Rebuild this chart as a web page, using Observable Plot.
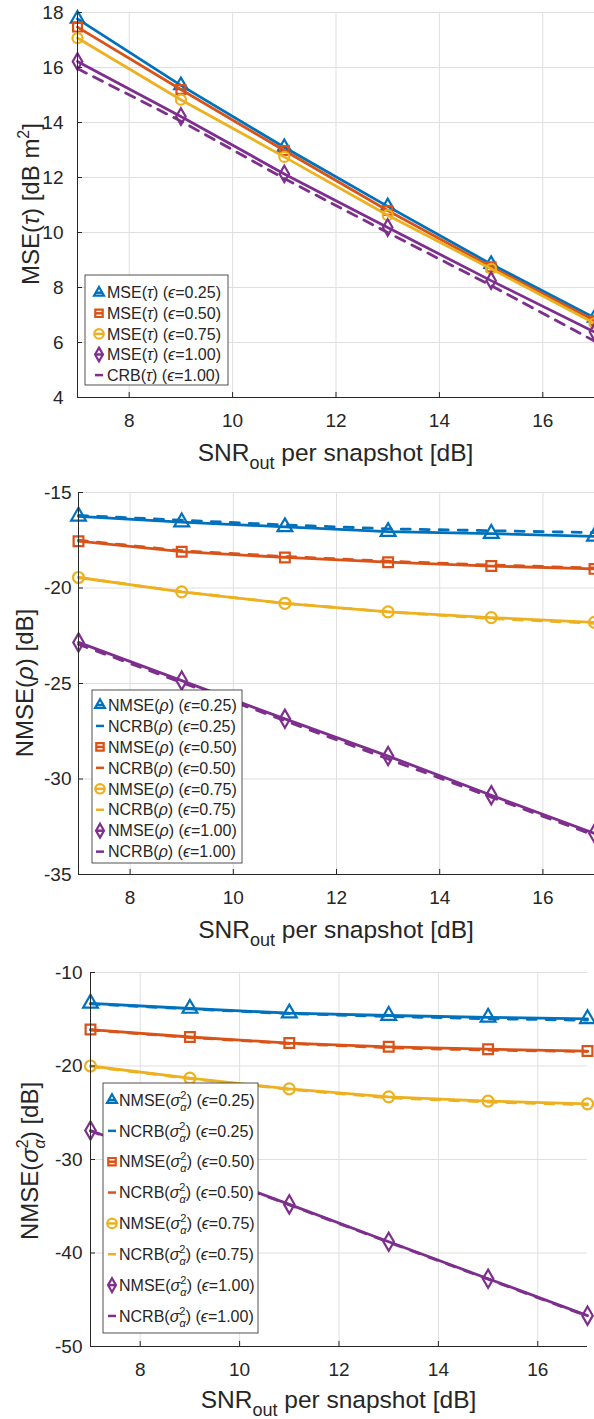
<!DOCTYPE html>
<html><head><meta charset="utf-8">
<script src="https://cdn.jsdelivr.net/npm/d3@7"></script>
<script src="https://cdn.jsdelivr.net/npm/@observablehq/plot@0.6"></script>
<style>
body{margin:0;background:#fff;}
#chart{width:594px;}
#chart svg{display:block;}
</style></head><body><div id="chart"></div>
<script>
// ---------- shared data ----------
const snr = [7, 9, 11, 13, 15, 17];
const xTicks = [8, 10, 12, 14, 16];
const epsLabels = ["0.25", "0.50", "0.75", "1.00"];
const colors = ["#0072BD", "#D95319", "#EDB120", "#7E2F8E"];
const symbols = ["triangle", "square", "circle", "diamond"];

// ---------- panel 1: MSE(tau) [dB m^2] ----------
const tauTicks = [4, 6, 8, 10, 12, 14, 16, 18];
const mseTau025 = [17.77, 15.35, 13.10, 10.95, 8.85, 6.90];
const mseTau050 = [17.47, 15.20, 12.98, 10.80, 8.75, 6.80];
const mseTau075 = [17.07, 14.83, 12.75, 10.63, 8.68, 6.70];
const mseTau100 = [16.22, 14.22, 12.13, 10.18, 8.25, 6.38];
const crbTau100 = [15.96, 14.05, 11.96, 10.00, 8.07, 6.05];

// ---------- panel 2: NMSE(rho) [dB] ----------
const rhoTicks = [-35, -30, -25, -20, -15];
const nmseRho025 = [-16.25, -16.55, -16.80, -17.05, -17.15, -17.30];
const ncrbRho025 = [-16.20, -16.45, -16.70, -16.90, -17.00, -17.10];
const nmseRho050 = [-17.55, -18.10, -18.40, -18.65, -18.85, -19.00];
const ncrbRho050 = [-17.50, -18.05, -18.35, -18.60, -18.80, -18.95];
const nmseRho075 = [-19.45, -20.20, -20.80, -21.25, -21.55, -21.80];
const ncrbRho075 = [-19.45, -20.20, -20.80, -21.25, -21.60, -21.85];
const nmseRho100 = [-22.85, -24.85, -26.85, -28.80, -30.85, -32.85];
const ncrbRho100 = [-22.95, -24.95, -26.95, -28.95, -30.95, -32.95];

// ---------- panel 3: NMSE(sigma_alpha^2) [dB] ----------
const sigTicks = [-50, -40, -30, -20, -10];
const nmseSig025 = [-13.30, -13.85, -14.35, -14.60, -14.80, -14.95];
const ncrbSig025 = [-13.35, -13.90, -14.40, -14.70, -14.95, -15.10];
const nmseSig050 = [-16.10, -16.90, -17.55, -17.95, -18.20, -18.40];
const ncrbSig050 = [-16.15, -16.95, -17.60, -18.05, -18.30, -18.45];
const nmseSig075 = [-20.00, -21.30, -22.45, -23.30, -23.75, -24.05];
const ncrbSig075 = [-20.05, -21.35, -22.50, -23.40, -23.85, -24.15];
const nmseSig100 = [-26.90, -30.85, -34.80, -38.80, -42.75, -46.70];
const ncrbSig100 = [-26.95, -30.90, -34.85, -38.85, -42.80, -46.75];

// ---------- helpers ----------
const FONT = "'Liberation Sans', Arial, Helvetica, sans-serif";
const AXIS_COLOR = "#262626";
const GRID = "#dfdfdf";

function makePanel(cfg) {
  const marks = [
    Plot.gridX(xTicks, {stroke: GRID, strokeOpacity: 1}),
    Plot.gridY(cfg.yTicks, {stroke: GRID, strokeOpacity: 1})
  ];
  for (const s of cfg.series) {
    const rows = snr.map((x, i) => ({x, y: s.values[i]}));
    marks.push(Plot.line(rows, {
      x: "x", y: "y", stroke: s.color, strokeWidth: 2.8,
      strokeDasharray: s.dashed ? cfg.dash : null
    }));
    if (s.symbol) {
      marks.push(Plot.dot(rows, {
        x: "x", y: "y", symbol: s.symbol, stroke: s.color, fill: "none",
        strokeWidth: 2.2, r: cfg.r
      }));
    }
  }
  marks.push(
    Plot.ruleX([7], {stroke: AXIS_COLOR}),
    Plot.ruleY([cfg.yDomain[0]], {stroke: AXIS_COLOR}),
    Plot.axisX({ticks: xTicks, tickSize: -5, tickPadding: 21, label: null, tickFormat: d => String(d), stroke: AXIS_COLOR}),
    Plot.axisY({ticks: cfg.yTicks, tickSize: -5, tickPadding: cfg.yPad, label: null, tickFormat: d => String(d), stroke: AXIS_COLOR})
  );
  const svg = Plot.plot({
    width: 594, height: cfg.height,
    marginTop: cfg.mt, marginBottom: cfg.mb, marginLeft: cfg.ml, marginRight: cfg.mr,
    x: {domain: [7, 17]},
    y: {domain: cfg.yDomain},
    style: {fontFamily: FONT, fontSize: "19px", color: AXIS_COLOR, background: "white", overflow: "hidden"},
    marks
  });
  return svg;
}

function addText(g, x, y, parts, size, anchor, rotate) {
  const t = g.append("text")
    .attr("transform", `translate(${x},${y})` + (rotate ? " rotate(-90)" : ""))
    .attr("text-anchor", anchor)
    .attr("fill", AXIS_COLOR)
    .style("font-family", FONT)
    .style("font-size", size + "px");
  for (const p of parts) {
    const ts = t.append("tspan").text(p.t);
    if (p.dy) ts.attr("dy", p.dy);
    if (p.dx) ts.attr("dx", p.dx);
    if (p.size) ts.style("font-size", p.size + "px");
    if (p.it) ts.style("font-style", "italic");
  }
  return t;
}

const xLabelParts = [
  {t: "SNR"}, {t: "out", size: 18, dy: 8}, {t: " per snapshot [dB]", dy: -8}
];

function addLegend(svg, L, entries) {
  const g = d3.select(svg).append("g");
  g.append("rect").attr("x", L.x0).attr("y", L.y0).attr("width", L.w).attr("height", L.h)
    .attr("fill", "white").attr("stroke", AXIS_COLOR).attr("stroke-width", 0.8);
  const symMap = {triangle: d3.symbolTriangle2, square: d3.symbolSquare, circle: d3.symbolCircle, diamond: d3.symbolDiamond};
  const symSize = {triangle: 70, square: 55, circle: 70, diamond: 55};
  entries.forEach((e, i) => {
    const yc = L.y1 + i * L.dy;
    g.append("line").attr("x1", L.cx - 4).attr("x2", L.cx + 4).attr("y1", yc).attr("y2", yc)
      .attr("stroke", e.color).attr("stroke-width", 2.5);
    if (e.symbol) {
      g.append("path").attr("d", d3.symbol(symMap[e.symbol], symSize[e.symbol])())
        .attr("transform", `translate(${L.cx},${yc})`)
        .attr("fill", "none").attr("stroke", e.color).attr("stroke-width", 2.2);
    }
    addText(g, L.tx, yc + 5.7, e.parts, 16, "start", false);
  });
}

const chart = document.getElementById("chart");

// ---------- panel 1 ----------
{
  const series = [
    {values: mseTau025, color: colors[0], symbol: symbols[0]},
    {values: mseTau050, color: colors[1], symbol: symbols[1]},
    {values: mseTau075, color: colors[2], symbol: symbols[2]},
    {values: mseTau100, color: colors[3], symbol: symbols[3]},
    {values: crbTau100, color: colors[3], dashed: true}
  ];
  const svg = makePanel({height: 476, mt: 12, mb: 79, ml: 77, mr: 0, yDomain: [4, 18], yTicks: tauTicks, yPad: 19, series, dash: "10,8", r: 5});
  const s = d3.select(svg);
  addText(s, 335.5, 461, xLabelParts, 24.5, "middle", false);
  addText(s, 39, 204, [{t: "MSE("}, {t: "τ", it: true}, {t: ") [dB m"}, {t: "2", size: 16, dy: -10}, {t: "]", dy: 10}], 24, "middle", true);
  const entries = [0, 1, 2, 3].map(k => ({color: colors[k], symbol: symbols[k],
    parts: [{t: "MSE("}, {t: "τ", it: true}, {t: ") ("}, {t: "ϵ", it: true}, {t: "=" + epsLabels[k] + ")"}]}));
  entries.push({color: colors[3], parts: [{t: "CRB("}, {t: "τ", it: true}, {t: ") ("}, {t: "ϵ", it: true}, {t: "=1.00)"}]});
  addLegend(svg, {x0: 85, y0: 275, w: 143, h: 110, cx: 99, tx: 107, y1: 292.7, dy: 20.6}, entries);
  chart.appendChild(svg);
}

// ---------- panel 2 ----------
{
  const nm = [nmseRho025, nmseRho050, nmseRho075, nmseRho100];
  const nc = [ncrbRho025, ncrbRho050, ncrbRho075, ncrbRho100];
  const series = [];
  for (let k = 0; k < 4; k++) {
    series.push({values: nm[k], color: colors[k], symbol: symbols[k]});
    series.push({values: nc[k], color: colors[k], dashed: true});
  }
  const top = 476;
  const svg = makePanel({height: 950 - top, mt: 492 - top, mb: 950 - 874, ml: 78, mr: 0, yDomain: [-35, -15], yTicks: rhoTicks, yPad: 12, series, dash: "9,10", r: 5.5});
  const s = d3.select(svg);
  addText(s, 336, 938 - top, xLabelParts, 24.5, "middle", false);
  addText(s, 33, 683 - top, [{t: "NMSE("}, {t: "ρ", it: true}, {t: ") [dB]"}], 24, "middle", true);
  const entries = [];
  for (let k = 0; k < 4; k++) {
    entries.push({color: colors[k], symbol: symbols[k], parts: [{t: "NMSE("}, {t: "ρ", it: true}, {t: ") ("}, {t: "ϵ", it: true}, {t: "=" + epsLabels[k] + ")"}]});
    entries.push({color: colors[k], parts: [{t: "NCRB("}, {t: "ρ", it: true}, {t: ") ("}, {t: "ϵ", it: true}, {t: "=" + epsLabels[k] + ")"}]});
  }
  addLegend(svg, {x0: 92, y0: 690 - top, w: 150, h: 173, cx: 100, tx: 108, y1: 705 - top, dy: 20.95}, entries);
  chart.appendChild(svg);
}

// ---------- panel 3 ----------
{
  const nm = [nmseSig025, nmseSig050, nmseSig075, nmseSig100];
  const nc = [ncrbSig025, ncrbSig050, ncrbSig075, ncrbSig100];
  const series = [];
  for (let k = 0; k < 4; k++) {
    series.push({values: nm[k], color: colors[k], symbol: symbols[k]});
    series.push({values: nc[k], color: colors[k], dashed: true});
  }
  const svg = makePanel({height: 469, mt: 22, mb: 73, ml: 90, mr: 7, yDomain: [-50, -10], yTicks: sigTicks, yPad: 13, series, dash: "9,10", r: 5.5});
  const s = d3.select(svg);
  addText(s, 338.5, 458, xLabelParts, 24.5, "middle", false);
  addText(s, 38, 211, [{t: "NMSE("}, {t: "σ", it: true}, {t: "2", size: 16, dy: -10}, {t: "α", it: true, size: 16, dx: -9, dy: 17}, {t: ") [dB]", dy: -7}], 24, "middle", true);
  const sigParts = [{t: "σ", it: true}, {t: "2", size: 11, dy: -7}, {t: "α", it: true, size: 11, dx: -6, dy: 12}, {t: ")", dy: -5}];
  const entries = [];
  for (let k = 0; k < 4; k++) {
    entries.push({color: colors[k], symbol: symbols[k], parts: [{t: "NMSE("}, ...sigParts, {t: " ("}, {t: "ϵ", it: true}, {t: "=" + epsLabels[k] + ")"}]});
    entries.push({color: colors[k], parts: [{t: "NCRB("}, ...sigParts, {t: " ("}, {t: "ϵ", it: true}, {t: "=" + epsLabels[k] + ")"}]});
  }
  addLegend(svg, {x0: 103, y0: 133, w: 155, h: 250, cx: 112, tx: 119, y1: 150, dy: 30.85}, entries);
  chart.appendChild(svg);
}
</script>
</body></html>
